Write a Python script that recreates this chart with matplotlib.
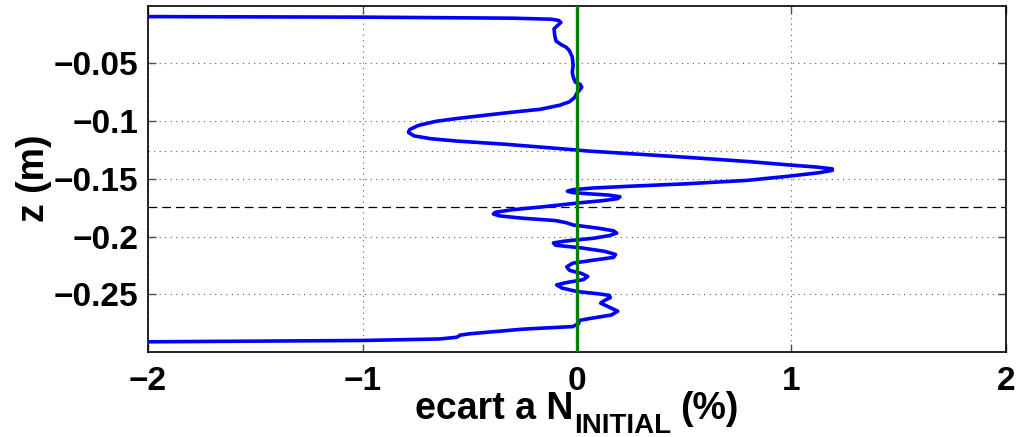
import matplotlib
matplotlib.use("Agg")
import matplotlib.pyplot as plt

# Deviation from the initial stratification (%) versus depth z (m)
ecart = [-2.3, -1.0, -0.3, -0.12, -0.085, -0.075, -0.09, -0.107, -0.104, -0.098,
         -0.075, -0.05, -0.035, -0.022, -0.018, -0.022, -0.018, -0.008, 0.015, 0.022,
         0.012, 0.0, -0.012, -0.035, -0.08, -0.17, -0.30, -0.42, -0.56, -0.66,
         -0.74, -0.78, -0.786, -0.76, -0.68, -0.56, -0.33, -0.095, 0.06, 0.30,
         0.55, 0.80, 0.98, 1.12, 1.19, 1.19, 1.13, 0.98, 0.79, 0.50,
         0.25, 0.08, -0.02, -0.045, -0.02, 0.05, 0.15, 0.20, 0.19, 0.12,
         0.014, -0.16, -0.30, -0.38, -0.39, -0.36, -0.25, -0.10, -0.05, -0.018,
         0.10, 0.17, 0.185, 0.15, 0.076, -0.05, -0.11, -0.10, 0.02, 0.13,
         0.18, 0.17, 0.08, -0.02, -0.048, -0.035, 0.02, 0.05, 0.03, -0.05,
         -0.095, -0.07, 0.0, 0.10, 0.15, 0.155, 0.13, 0.11, 0.15, 0.19,
         0.16, 0.06, 0.010, 0.008, -0.02, -0.25, -0.50, -0.545, -0.56, -0.64,
         -1.0, -2.3]
z = [-0.0098, -0.0104, -0.0113, -0.0122, -0.0133, -0.0150, -0.0175, -0.0205, -0.0260, -0.0310,
     -0.0340, -0.0365, -0.0395, -0.0450, -0.0520, -0.0580, -0.0620, -0.0665, -0.0685, -0.0710,
     -0.0735, -0.0760, -0.0800, -0.0835, -0.0865, -0.0900, -0.0925, -0.0950, -0.0980, -0.1005,
     -0.1040, -0.1075, -0.1100, -0.1130, -0.1155, -0.1175, -0.1203, -0.1238, -0.1262, -0.1290,
     -0.1320, -0.1352, -0.1380, -0.1400, -0.1415, -0.1428, -0.1448, -0.1480, -0.1515, -0.1545,
     -0.1565, -0.1580, -0.1595, -0.1608, -0.1620, -0.1630, -0.1642, -0.1656, -0.1672, -0.1690,
     -0.1708, -0.1743, -0.1768, -0.1790, -0.1805, -0.1822, -0.1842, -0.1862, -0.1880, -0.1900,
     -0.1928, -0.1950, -0.1970, -0.1992, -0.2015, -0.2038, -0.2055, -0.2075, -0.2098, -0.2128,
     -0.2155, -0.2180, -0.2203, -0.2230, -0.2262, -0.2292, -0.2318, -0.2345, -0.2372, -0.2398,
     -0.2418, -0.2445, -0.2475, -0.2495, -0.2508, -0.2528, -0.2550, -0.2575, -0.2610, -0.2645,
     -0.2678, -0.2708, -0.2725, -0.2752, -0.2778, -0.2800, -0.2840, -0.2852, -0.2870, -0.2885,
     -0.2898, -0.2913]

# Reference depths
z_dotted = -0.1261
z_dashed = -0.1741

xticks = [-2, -1, 0, 1, 2]
xtick_labels = ["\u22122", "\u22121", "0", "1", "2"]
yticks = [-0.25, -0.2, -0.15, -0.1, -0.05]
ytick_labels = ["\u22120.25", "\u22120.2", "\u22120.15", "\u22120.1", "\u22120.05"]

plt.rcParams["font.family"] = ["Liberation Sans", "DejaVu Sans"]
plt.rcParams["font.weight"] = "bold"

W, H = 1018, 437
fig = plt.figure(figsize=(W / 100, H / 100), dpi=100)
ax = fig.add_axes([0.1454, 0.1952, 0.8428, 0.7918])

grid_style = dict(color="0.35", linestyle=(0, (1, 4)), linewidth=0.8)
ax.set_xticks(xticks)
ax.set_xticklabels(xtick_labels)
ax.set_yticks(yticks)
ax.set_yticklabels(ytick_labels)
ax.grid(True, **grid_style)
ax.set_axisbelow(True)

ax.axhline(z_dotted, zorder=1, **grid_style)
ax.axhline(z_dashed, color="black", linestyle=(0, (7, 4)), linewidth=0.9, zorder=1)

ax.plot(ecart, z, color="#0000ff", linewidth=2.6, zorder=3,
        solid_joinstyle="round", solid_capstyle="round")
ax.axvline(0, color="#008000", linewidth=2.4, zorder=4)

ax.set_xlim(-2, 2)
ax.set_ylim(-0.2995, -0.0005)

for sp in ax.spines.values():
    sp.set_linewidth(1.2)
    sp.set_color("black")

ax.tick_params(direction="in", length=6, width=1, top=True, right=True,
               labelsize=24, color="0.3")
ax.tick_params(axis="x", pad=10)
ax.tick_params(axis="y", pad=7)

ax.set_ylabel("z (m)", fontsize=27, fontweight="bold")
ax.yaxis.set_label_coords(-0.112, 0.5)

# x label with a large subscript, assembled from three pieces
base_px = 419
sub_drop = 14
t1 = fig.text(0, 1 - base_px / H, "ecart a N", fontsize=27, fontweight="bold",
              va="baseline", ha="left")
t2 = fig.text(0, 1 - (base_px + sub_drop) / H, "INITIAL", fontsize=20,
              fontweight="bold", va="baseline", ha="left")
t3 = fig.text(0, 1 - base_px / H, "(%)", fontsize=27, fontweight="bold",
              va="baseline", ha="left")
fig.canvas.draw()
rend = fig.canvas.get_renderer()
w1 = t1.get_window_extent(rend).width
w2 = t2.get_window_extent(rend).width
w3 = t3.get_window_extent(rend).width
gap1, gap2 = 1, 9
total = w1 + gap1 + w2 + gap2 + w3
x_center = 0.1454 * W + 0.8428 * W / 2
x0 = x_center - total / 2
t1.set_x(x0 / W)
t2.set_x((x0 + w1 + gap1) / W)
t3.set_x((x0 + w1 + gap1 + w2 + gap2) / W)

fig.savefig("out.png", dpi=100)
